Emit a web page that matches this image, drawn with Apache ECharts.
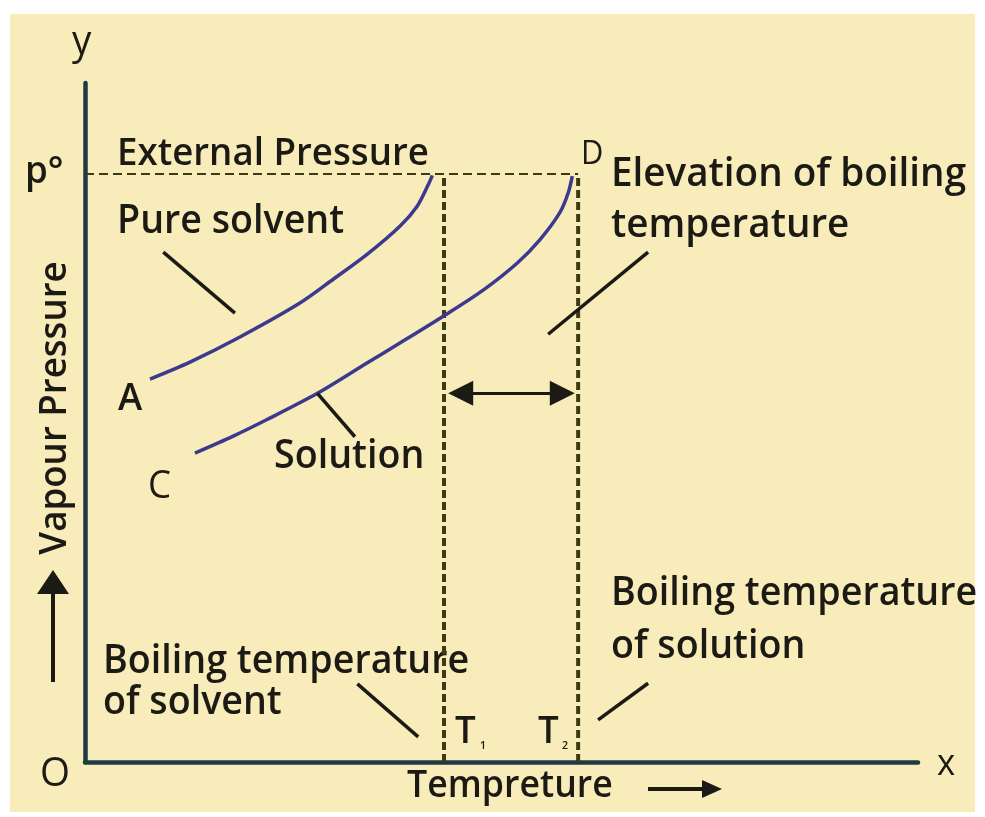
<!DOCTYPE html>
<html><head><meta charset="utf-8">
<script src="https://cdn.jsdelivr.net/npm/echarts@6/dist/echarts.min.js"></script>
<style>
html,body{margin:0;padding:0;background:#fff;}
#wrap{position:relative;width:985px;height:817px;overflow:hidden;background:#fff;}
#paper{position:absolute;left:10px;top:14px;width:965px;height:798px;background:#F8ECBA;}
#chart{position:absolute;left:0;top:0;width:985px;height:817px;}
</style></head><body>
<div id="wrap"><div id="paper"></div><div id="chart"></div></div>
<script>
// ---- data (temperature / vapour pressure, arbitrary units 0..100) ----
const pureSolventT = [7.8, 12.6, 18.6, 25.8, 29.8, 33.9, 37.8, 39.9, 41.2, 41.7];
const pureSolventP = [56.4, 58.9, 62.6, 67.6, 71.1, 74.8, 78.9, 81.9, 85.0, 86.4];
const solutionT = [13.2, 17.8, 21.8, 27.9, 33.9, 37.8, 43.2, 47.8, 51.9, 54.6, 57.0, 58.0, 58.5];
const solutionP = [45.5, 48.0, 50.4, 54.3, 58.8, 61.7, 65.8, 69.5, 73.5, 76.9, 80.9, 83.8, 86.3];
const T1 = 43.1;   // boiling temperature of solvent
const T2 = 59.2;   // boiling temperature of solution
const P0 = 86.6;   // external pressure

// ---- annotation geometry (data coords) ----
const leaders = [
  [[9.4, 75.1], [18.0, 66.1]],   // pure solvent
  [[27.9, 54.3], [32.4, 47.9]],  // solution
  [[55.6, 63.0], [67.6, 75.1]],  // elevation
  [[32.7, 11.5], [40.0, 3.7]],   // boiling temp solvent
  [[61.6, 6.2], [67.6, 11.6]]    // boiling temp solution
];
const elevArrowY = 54.3;

const INK = '#1c1a14';
const CURVE = '#3b3a8f';
const DASH = '#3d3a14';
const AXIS = '#1d3a45';
const FONT = '"Open Sans", "Noto Sans", sans-serif';
const SX = 0.965;

const zip = (a, b) => a.map((v, i) => [v, b[i]]);

// x = left edge, base = baseline y
function txt(text, x, base, size, weight) {
  return {
    type: 'text', x: x, y: Math.round(base - 0.8 * size), scaleX: SX, silent: true,
    style: { text: text, fill: INK, font: (weight || 600) + ' ' + size + 'px ' + FONT, textAlign: 'left', textVerticalAlign: 'top' }
  };
}

const labels = [
  txt('y', 72, 55, 40, 400),
  txt('x', 937, 776, 36, 400),
  txt('O', 40, 787, 40, 400),
  txt('p°', 25, 183, 38),
  txt('External Pressure', 117, 165, 38),
  txt('Pure solvent', 117, 233, 39),
  txt('A', 118, 410, 38),
  txt('C', 148, 498, 38, 400),
  txt('Solution', 274, 468, 39),
  txt('D', 581, 165, 32, 400),
  txt('Elevation of boiling', 611, 187, 40),
  txt('temperature', 611, 238, 40),
  txt('Boiling temperature', 611, 605, 39),
  txt('of solution', 611, 658, 39),
  txt('Boiling temperature', 103, 673, 39),
  txt('of solvent', 103, 714, 39),
  txt('T', 455, 743, 38),
  txt('1', 480, 749, 11),
  txt('T', 538, 743, 38),
  txt('2', 562, 749, 11),
  txt('Tempreture', 407, 798, 37),
  {
    type: 'text', x: 55, y: 408, rotation: Math.PI / 2, scaleX: SX, silent: true,
    style: { text: 'Vapour Pressure', fill: INK, font: '600 38px ' + FONT, textAlign: 'center', textVerticalAlign: 'middle' }
  },
  // vapour pressure arrow
  { type: 'line', silent: true, shape: { x1: 53, y1: 682, x2: 53, y2: 590 }, style: { stroke: INK, lineWidth: 4 } },
  { type: 'polygon', silent: true, shape: { points: [[53, 570], [37, 594], [69, 594]] }, style: { fill: INK } },
  // temperature arrow
  { type: 'line', silent: true, shape: { x1: 648, y1: 789, x2: 708, y2: 789 }, style: { stroke: INK, lineWidth: 4 } },
  { type: 'polygon', silent: true, shape: { points: [[722, 789], [702, 780], [702, 798]] }, style: { fill: INK } }
];

const chart = echarts.init(document.getElementById('chart'), null, { renderer: 'canvas' });

const dashSeries = (pts, w, dash) => ({
  type: 'line', data: pts, symbol: 'none', silent: true, z: 1,
  lineStyle: { color: DASH, width: w, type: dash }
});

chart.setOption({
  backgroundColor: 'transparent',
  animation: false,
  grid: { left: 85, right: 67, top: 83, bottom: 55 },
  xAxis: {
    type: 'value', min: 0, max: 100,
    axisLine: { show: true, onZero: false, lineStyle: { color: AXIS, width: 4.5 } },
    axisTick: { show: false }, axisLabel: { show: false }, splitLine: { show: false }
  },
  yAxis: {
    type: 'value', min: 0, max: 100,
    axisLine: { show: true, onZero: false, lineStyle: { color: AXIS, width: 4.5 } },
    axisTick: { show: false }, axisLabel: { show: false }, splitLine: { show: false }
  },
  series: [
    dashSeries([[0, P0], [T2, P0]], 2, [9, 5]),
    dashSeries([[T1, 0], [T1, P0]], 4, [8, 4]),
    dashSeries([[T2, 0], [T2, P0]], 4, [8, 4]),
    {
      name: 'Pure solvent', type: 'line', data: zip(pureSolventT, pureSolventP),
      smooth: 0.3, symbol: 'none', z: 3, lineStyle: { color: CURVE, width: 3.5 }
    },
    {
      name: 'Solution', type: 'line', data: zip(solutionT, solutionP),
      smooth: 0.3, symbol: 'none', z: 3, lineStyle: { color: CURVE, width: 3.5 },
      markLine: {
        silent: true, animation: false, symbol: 'none', label: { show: false },
        lineStyle: { color: INK, width: 3.5, type: 'solid' },
        data: leaders.map(l => [{ coord: l[0] }, { coord: l[1] }])
      }
    },
    {
      type: 'line', data: [], symbol: 'none',
      markLine: {
        silent: true, animation: false, symbol: ['triangle', 'triangle'], symbolSize: 25,
        label: { show: false },
        lineStyle: { color: INK, width: 3, type: 'solid' },
        itemStyle: { color: INK },
        data: [[{ coord: [T1 + 2.0, elevArrowY] }, { coord: [T2 - 1.9, elevArrowY] }]]
      }
    }
  ],
  graphic: labels
});
</script>
</body></html>
